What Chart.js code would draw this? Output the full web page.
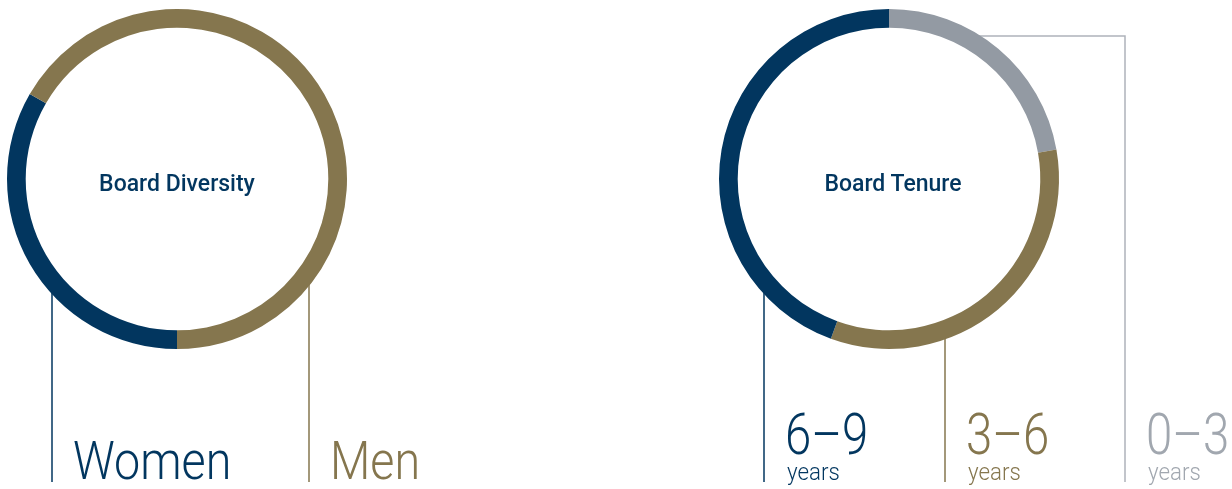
<!DOCTYPE html>
<html>
<head>
<meta charset="utf-8">
<script src="https://cdn.jsdelivr.net/npm/chart.js@4.4.0/dist/chart.umd.min.js"></script>
<style>
  html, body { margin: 0; padding: 0; background: #fff; }
  #wrap { position: relative; width: 1232px; height: 489px; overflow: hidden; font-family: Roboto, sans-serif; }
  .box { position: absolute; top: 0; width: 616px; height: 489px; }
  #leftBox { left: 0; }
  #rightBox { left: 616px; }
  .lbl { position: absolute; white-space: nowrap; line-height: 1; transform-origin: 0 0; }
  .title { font-weight: 500; font-size: 23px; transform: translateX(-50%); }
  .big { font-weight: 300; }
</style>
</head>
<body>
<div id="wrap">
  <div class="box" id="leftBox"><canvas id="diversityChart" width="616" height="489"></canvas></div>
  <div class="box" id="rightBox"><canvas id="tenureChart" width="616" height="489"></canvas></div>
</div>
<script>
// data
const diversityTitle = 'Board Diversity';
const diversityLabels = ['Women', 'Men'];
const diversityValues = [3, 6];

const tenureTitle = 'Board Tenure';
const tenureLabels = ['0–3', '3–6', '6–9'];
const tenureValues = [2, 3, 4];
const tenureUnit = 'years';

const navy = '#02365f';
const gold = '#85764e';
const grey = '#939aa3';
const greyLine = '#aeb3ba';
const greyText = '#a1a7af';

const wrap = document.getElementById('wrap');

// draws the thin leader lines under the ring, from the middle of the ring down to the labels
const leaderPlugin = {
  id: 'leaders',
  beforeDatasetsDraw(chart, args, opts) {
    const c = chart.ctx;
    const arcs = chart.getDatasetMeta(0).data;
    const bottom = chart.height - 7;
    arcs.forEach(function(arc, i) {
      const l = opts.lines[i];
      if (!l) return;
      const rm = (arc.innerRadius + arc.outerRadius) / 2;
      const x = arc.x + l.dx;
      c.save();
      c.strokeStyle = l.color;
      c.lineWidth = 1.5;
      c.beginPath();
      if (l.elbowY !== undefined) {
        const y = arc.y + l.elbowY;
        const x0 = arc.x + Math.sqrt(rm * rm - l.elbowY * l.elbowY);
        c.moveTo(x0, y);
        c.lineTo(x, y);
        c.lineTo(x, bottom);
      } else {
        const y0 = arc.y + Math.sqrt(Math.max(rm * rm - l.dx * l.dx, 0));
        c.moveTo(x, y0);
        c.lineTo(x, bottom);
      }
      c.stroke();
      c.restore();
    });
  }
};

function makeChart(id, labels, values, colors, rotation, padding, lines) {
  return new Chart(document.getElementById(id).getContext('2d'), {
    type: 'doughnut',
    data: {
      labels: labels,
      datasets: [{
        data: values,
        backgroundColor: colors,
        borderWidth: 0,
        hoverOffset: 0
      }]
    },
    options: {
      responsive: false,
      animation: false,
      rotation: rotation,
      cutout: '89%',
      layout: { padding: padding },
      plugins: {
        legend: { display: false },
        tooltip: { enabled: false },
        leaders: { lines: lines }
      }
    },
    plugins: [leaderPlugin]
  });
}

function addLabel(text, left, baseline, size, color, cls, squeeze) {
  const d = document.createElement('div');
  d.className = 'lbl ' + cls;
  d.textContent = text;
  d.style.left = left + 'px';
  d.style.top = (baseline - size * 0.842) + 'px';
  d.style.fontSize = size + 'px';
  d.style.color = color;
  if (squeeze) d.style.transform = 'scaleX(' + squeeze + ')';
  wrap.appendChild(d);
}

// Board Diversity
const divLines = [{ dx: -125, color: navy }, { dx: 132, color: gold }];
const divChart = makeChart('diversityChart', diversityLabels, diversityValues, [navy, gold], 180,
  { left: 7, top: 9, right: 269, bottom: 140 }, divLines);

// Board Tenure
const tenLines = [{ dx: 236, elbowY: -143, color: greyLine }, { dx: 56, color: gold }, { dx: -125, color: navy }];
const tenChart = makeChart('tenureChart', tenureLabels, tenureValues, [grey, gold, navy], 0,
  { left: 103, top: 9, right: 173, bottom: 140 }, tenLines);

// text
const divArc = divChart.getDatasetMeta(0).data[0];
addLabel(diversityTitle, divArc.x, 191, 23, navy, 'title');
const divColors = [navy, gold];
diversityLabels.forEach(function(t, i) {
  addLabel(t, divArc.x + divLines[i].dx + 21, 480, 53, divColors[i], 'big', 0.88);
});

const tenArc = tenChart.getDatasetMeta(0).data[0];
const tenX = 616 + tenArc.x;
addLabel(tenureTitle, tenX + 4, 191, 23, navy, 'title');
const tenColors = [greyText, gold, navy];
tenureLabels.forEach(function(t, i) {
  addLabel(t, tenX + tenLines[i].dx + 21, 454, 57, tenColors[i], 'big', 0.83);
  addLabel(tenureUnit, tenX + tenLines[i].dx + 23, 480, 23, tenColors[i], 'big', 0.97);
});
</script>
</body>
</html>
